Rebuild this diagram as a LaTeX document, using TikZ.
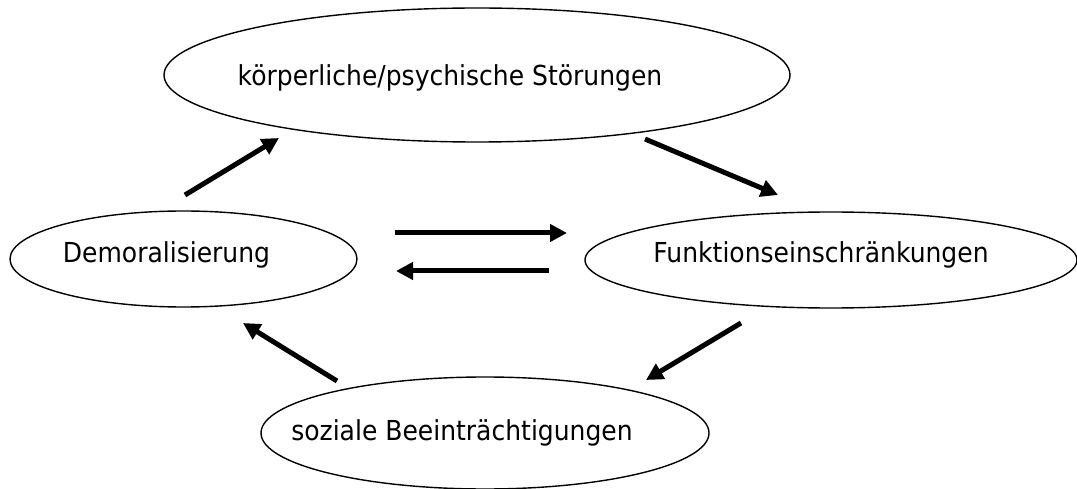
\documentclass[tikz,border=0pt]{standalone}
\usepackage{fontspec}
\setmainfont{DejaVu Sans}[FakeStretch=0.91]
\usetikzlibrary{shapes.geometric,arrows.meta}
\begin{document}
\begin{tikzpicture}[x=1pt,y=-1pt,
  ell/.style={draw=black,line width=1.4pt,ellipse,inner sep=0pt},
  lbl/.style={anchor=base,inner sep=0pt,font=\fontsize{27.5}{33}\selectfont},
  arr/.style={line width=5pt,-{Triangle[length=17pt,width=17pt]}}]
\useasboundingbox (0,0) rectangle (1077,489);
% ellipses
\node[ell,minimum width=626pt,minimum height=134pt] (top) at (477,75) {};
\node[ell,minimum width=347pt,minimum height=96pt] (demo) at (183.5,259) {};
\node[ell,minimum width=492pt,minimum height=96pt] (funk) at (831,260) {};
\node[ell,minimum width=448pt,minimum height=112pt] (soz) at (485,433) {};
% labels
\node[lbl] (toptext) at (450,86) {körperliche/psychische Störungen};
\node[lbl] (demotext) at (166.5,263) {Demoralisierung};
\node[lbl] (funktext) at (821,263) {Funktionseinschränkungen};
\node[lbl] (soztext) at (462,440) {soziale Beeinträchtigungen};
% arrow end points
\coordinate (a1s) at (185,195); \coordinate (a1e) at (279,138);
\coordinate (a2s) at (645,139); \coordinate (a2e) at (778,195);
\coordinate (a3s) at (395,233); \coordinate (a3e) at (567,233);
\coordinate (a4s) at (549,271); \coordinate (a4e) at (396,271);
\coordinate (a5s) at (741,323); \coordinate (a5e) at (646,380);
\coordinate (a6s) at (337,381); \coordinate (a6e) at (243,323);
% arrows
\draw[arr] (a1s) -- (a1e);
\draw[arr] (a2s) -- (a2e);
\draw[arr] (a3s) -- (a3e);
\draw[arr] (a4s) -- (a4e);
\draw[arr] (a5s) -- (a5e);
\draw[arr] (a6s) -- (a6e);
\end{tikzpicture}
\end{document}
